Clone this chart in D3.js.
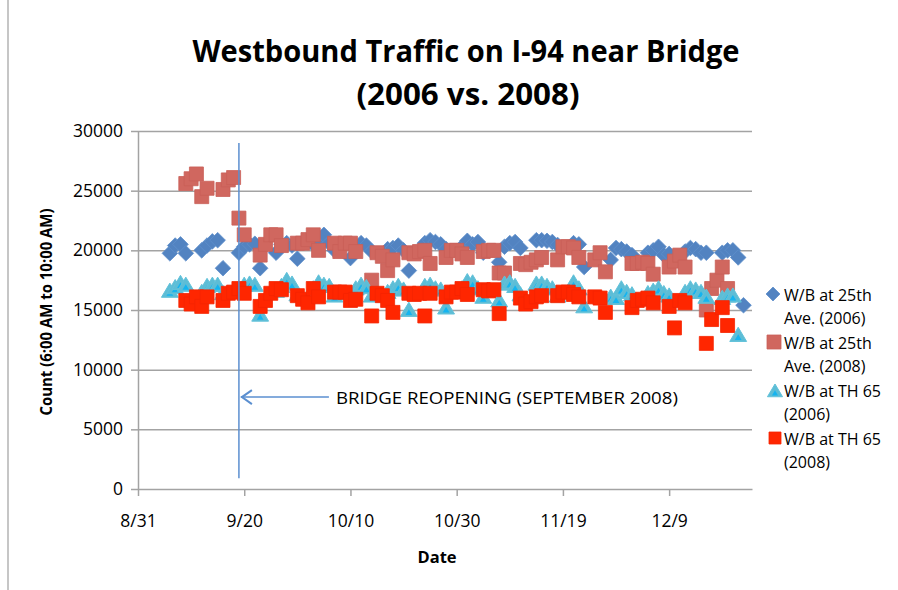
<!DOCTYPE html>
<html>
<head>
<meta charset="utf-8">
<script src="https://cdn.jsdelivr.net/npm/d3@7"></script>
<style>
  body { margin: 0; background: #fff; }
  text { font-family: "Open Sans", sans-serif; fill: #000; }
</style>
</head>
<body>
<svg id="chart" width="898" height="590"></svg>
<script>
// days are counted from 8/31 (day 0) //
const tickDays = [0, 20, 40, 60, 80, 100];
const tickLabels = ["8/31", "9/20", "10/10", "10/30", "11/19", "12/9"];
const yTicks = [0, 5000, 10000, 15000, 20000, 25000, 30000];
const seriesNames = ["W/B at 25th Ave. (2006)", "W/B at 25th Ave. (2008)", "W/B at TH 65 (2006)", "W/B at TH 65 (2008)"];

// W/B at 25th Ave. (2006)
const ave25_2006_days = [6,7,8,9, 12,13,14,15,16, 19,20,21,22,23, 26,27,28,29,30, 33,34,35,36,37,
  40,41,42,43,44, 47,48,49,50,51, 54,55,56,57,58, 61,62,63,64,65, 68,69,70,71,72, 75,76,77,78,79,
  82,83,84, 89,90,91,92,93, 96,97,98,99,100, 103,104,105,106,107, 110,111,112,113,114];
const ave25_2006 = [19750,20400,20500,19750, 20000,20400,20750,20850,18500, 19800,20300,20500,20550,18500,
  19800,20500,20600,20400,19300, 20500,20800,21300,20600,20000, 19350,20200,20600,20400,19900,
  20100,20200,20400,20000,18300, 20600,20850,20700,20500,20100, 20300,20800,20500,20700,19800,
  19000,20300,20600,20700,20200, 20850,20850,20800,20700,20450, 20600,20500,18600,
  19200,20200,20100,19900,19600, 19800,20000,20300,19600,19700, 19900,20200,20100,19800,19800,
  19800,20000,20000,19400,15400];

// W/B at 25th Ave. (2008)
const ave25_2008_days = [9,10,11,12,13, 16,17,18,19,20, 23,24,25,26,27, 30,31,32,33,34, 37,38,39,40,41,
  44,45,46,47,48, 51,52,53,54,55, 58,59,60,61,62, 65,66,67,68,69, 72,73,74,75,76, 79,80,81,82,83,
  86,87,88, 93,94,95,96,97, 100,101,102,103, 107,108,109,110,111];
const ave25_2008 = [25600,26000,26400,24500,25200, 25100,25900,26100,22700,21300, 19600,20500,21300,21300,20400,
  20600,20600,20900,21300,20000, 20600,19900,20600,20600,19900, 17500,19800,19500,18300,19200,
  19800,19700,19900,20000,18900, 19400,20000,20000,19700,19400, 19900,20000,20000,18100,18100,
  18900,18800,19000,19200,19400, 19200,20300,20300,20200,19400, 19200,19800,18200,
  18900,18900,19000,18900,18000, 18600,19100,19600,18600, 15000,16800,17500,18600,16800];

// W/B at TH 65 (2006)
const th65_2006_days = [6,7,8,9, 12,13,14,15,16, 19,20,21,22,23, 26,27,28,29,30, 33,34,35,36,37,
  40,41,42,43,44, 47,48,49,50,51, 54,55,56,57,58, 61,62,63,64,65, 68,69,70,71,72, 75,76,77,78,79,
  82,83,84, 89,90,91,92,93, 96,97,98,99,100, 103,104,105,106,107, 110,111,112,113];
const th65_2006 = [16600,16900,17250,17100, 16500,17000,17100,17100,16400, 16800,17100,17200,17100,14600,
  16600,17000,17500,17200,16300, 16800,17300,17100,17000,16200, 16400,16800,17100,16900,16200,
  16500,16800,17000,16700,15000, 17000,17100,16800,16700,15200, 16800,17400,17300,16800,16100,
  15800,17200,17300,17000,16300, 17200,17200,17000,16800,16200, 17300,16800,15300,
  16100,16000,16800,16500,16300, 16400,16600,16800,16400,16200, 16500,16800,16700,16500,16100,
  16000,16200,16200,12900];

// W/B at TH 65 (2008)
const th65_2008_days = [9,10,11,12,13, 16,17,18,19,20, 23,24,25,26,27, 30,31,32,33,34, 37,38,39,40,41,
  44,45,46,47,48, 51,52,53,54,55, 58,59,60,61,62, 65,66,67,68, 72,73,74,75,76, 79,80,81,82,83,
  86,87,88, 93,94,95,96,97, 100,101,102,103, 107,108,110,111];
const th65_2008 = [15800,15500,16100,15300,16100, 15800,16400,16500,16800,16400, 15300,15800,16400,16800,16700,
  16200,15900,15600,16800,16100, 16500,16500,16500,15800,15900, 14500,16400,16200,15800,14800,
  16400,16300,16400,14500,16400, 16100,16500,16500,16800,16300, 16700,16600,16700,14700,
  16000,15500,15700,16100,16200, 16200,16500,16500,16300,16100, 16100,16000,14800,
  15200,15800,15900,16000,15600, 15300,13500,15800,15600, 12200,14200,15200,13700];

// bridge reopening marker (day, and the count span of the line)
const reopenDay = 19;
const reopenSpan = [900, 29000];
const reopenArrowAt = 7700;
const axisEndDay = 115.6;

const svg = d3.select("#chart");

// outer chart border (only the left edge shows in the original)
svg.append("line")
  .attr("x1", 8).attr("x2", 8).attr("y1", 0).attr("y2", 590)
  .attr("stroke", "#b3b3b3").attr("stroke-width", 1.5);

const x = d3.scaleLinear().domain([0, axisEndDay]).range([138, 752]);
const y = d3.scaleLinear().domain([0, 30000]).range([489, 131]);

// grid lines
svg.append("g")
  .attr("class", "grid")
  .attr("transform", "translate(138,0)")
  .call(d3.axisLeft(y).tickValues(yTicks.filter(d => d > 0)).tickSize(-(x.range()[1] - x.range()[0])).tickFormat(""))
  .call(g => g.select(".domain").remove())
  .selectAll("line").attr("stroke", "#a3a3a3").attr("stroke-width", 1.5);

// y axis
const yAxis = svg.append("g")
  .attr("transform", "translate(138,0)")
  .call(d3.axisLeft(y).tickValues(yTicks).tickSize(7).tickSizeOuter(0).tickPadding(8).tickFormat(d3.format("d")));
yAxis.select(".domain").attr("stroke", "#a3a3a3").attr("stroke-width", 1.5);
yAxis.selectAll(".tick line").attr("stroke", "#a3a3a3").attr("stroke-width", 1.5);
yAxis.selectAll("text").attr("font-size", 17.5).attr("font-family", "Open Sans");

// x axis
const xAxis = svg.append("g")
  .attr("transform", "translate(0,489)")
  .call(d3.axisBottom(x).tickValues(tickDays).tickSize(7).tickSizeOuter(0).tickPadding(19)
    .tickFormat((d, i) => tickLabels[i]));
xAxis.select(".domain").attr("stroke", "#a3a3a3").attr("stroke-width", 1.5);
xAxis.selectAll(".tick line").attr("stroke", "#a3a3a3").attr("stroke-width", 1.5);
xAxis.selectAll("text").attr("font-size", 17.5).attr("font-family", "Open Sans");

// marker shapes //
const diamond = s => `M0,${-s}L${s},0L0,${s}L${-s},0Z`;
const square = s => `M${-s},${-s}H${s}V${s}H${-s}Z`;
const triangle = s => `M0,${-s}L${s * 1.08},${s * 0.82}H${-s * 1.08}Z`;

function drawDiamonds(g, cx, cy, s) {
  g.append("path").attr("transform", `translate(${cx},${cy})`).attr("d", diamond(s))
    .attr("fill", "#5283c1").attr("stroke", "#5e8fcc").attr("stroke-width", 0.8);
}
function drawSquare(g, cx, cy, s, fill, stroke) {
  g.append("path").attr("transform", `translate(${cx},${cy})`).attr("d", square(s))
    .attr("fill", fill).attr("stroke", stroke).attr("stroke-width", 0.8);
}
function drawTriangle(g, cx, cy, s) {
  const t = g.append("g").attr("transform", `translate(${cx},${cy})`);
  t.append("path").attr("d", triangle(s)).attr("fill", "#5dbdd6").attr("stroke", "#62c2da").attr("stroke-width", 1);
  t.append("path").attr("d", triangle(s * 0.4)).attr("transform", `translate(0,${s * 0.3})`).attr("fill", "#14b4f0");
}

const marks = svg.append("g");

const gDia = marks.append("g");
ave25_2006.forEach((v, i) => drawDiamonds(gDia, x(ave25_2006_days[i]), y(v), 7.8));

const gSq = marks.append("g");
ave25_2008.forEach((v, i) => drawSquare(gSq, x(ave25_2008_days[i]), y(v), 7, "#d0675f", "#c96058"));

const gTri = marks.append("g");
th65_2006.forEach((v, i) => drawTriangle(gTri, x(th65_2006_days[i]), y(v), 7.8));

const gRed = marks.append("g");
th65_2008.forEach((v, i) => drawSquare(gRed, x(th65_2008_days[i]), y(v), 7, "#ff2600", "#f52400"));

// bridge reopening annotation //
const lineX = x(reopenDay);
svg.append("line")
  .attr("x1", lineX).attr("x2", lineX)
  .attr("y1", y(reopenSpan[1])).attr("y2", y(reopenSpan[0]))
  .attr("stroke", "#5b8fd0").attr("stroke-width", 1.5);

const ay = y(reopenArrowAt);
svg.append("line")
  .attr("x1", lineX + 2).attr("x2", lineX + 90).attr("y1", ay).attr("y2", ay)
  .attr("stroke", "#5b8fd0").attr("stroke-width", 1.5);
svg.append("path")
  .attr("d", `M${lineX + 13},${ay - 7}L${lineX + 3},${ay}L${lineX + 13},${ay + 7}`)
  .attr("fill", "none").attr("stroke", "#5b8fd0").attr("stroke-width", 2);

svg.append("text")
  .attr("x", lineX + 97).attr("y", ay + 7)
  .attr("font-size", 17)
  .attr("textLength", 342).attr("lengthAdjust", "spacingAndGlyphs")
  .text("BRIDGE REOPENING (SEPTEMBER 2008)");

// titles //
svg.append("text")
  .attr("x", 466).attr("y", 62).attr("text-anchor", "middle")
  .attr("font-size", 31).attr("font-weight", "bold")
  .attr("textLength", 547).attr("lengthAdjust", "spacingAndGlyphs")
  .text("Westbound Traffic on I-94 near Bridge");
svg.append("text")
  .attr("x", 468).attr("y", 105).attr("text-anchor", "middle")
  .attr("font-size", 31).attr("font-weight", "bold")
  .attr("textLength", 223).attr("lengthAdjust", "spacingAndGlyphs")
  .text("(2006 vs. 2008)");

svg.append("text")
  .attr("transform", "translate(52,312) rotate(-90)")
  .attr("text-anchor", "middle")
  .attr("font-size", 16.5).attr("font-weight", "bold")
  .attr("textLength", 207).attr("lengthAdjust", "spacingAndGlyphs")
  .text("Count (6:00 AM to 10:00 AM)");

svg.append("text")
  .attr("x", 437).attr("y", 563).attr("text-anchor", "middle")
  .attr("font-size", 16.5).attr("font-weight", "bold")
  .text("Date");

// legend //
const legend = svg.append("g");
const legendLines = [["W/B at 25th", "Ave. (2006)"], ["W/B at 25th", "Ave. (2008)"], ["W/B at TH 65", "(2006)"], ["W/B at TH 65", "(2008)"]];
const legendTop = [294, 342, 390, 438];
legendLines.forEach((lines, i) => {
  const ly = legendTop[i];
  if (i === 0) drawDiamonds(legend, 773, ly, 7);
  if (i === 1) drawSquare(legend, 774, ly, 7, "#d0675f", "#c96058");
  if (i === 2) drawTriangle(legend, 775, ly + 1, 7);
  if (i === 3) drawSquare(legend, 775, ly, 6, "#ff2600", "#f52400");
  lines.forEach((t, j) => {
    legend.append("text")
      .attr("x", 784).attr("y", ly + 7 + j * 23)
      .attr("font-size", 16)
      .text(t);
  });
});
</script>
</body>
</html>
